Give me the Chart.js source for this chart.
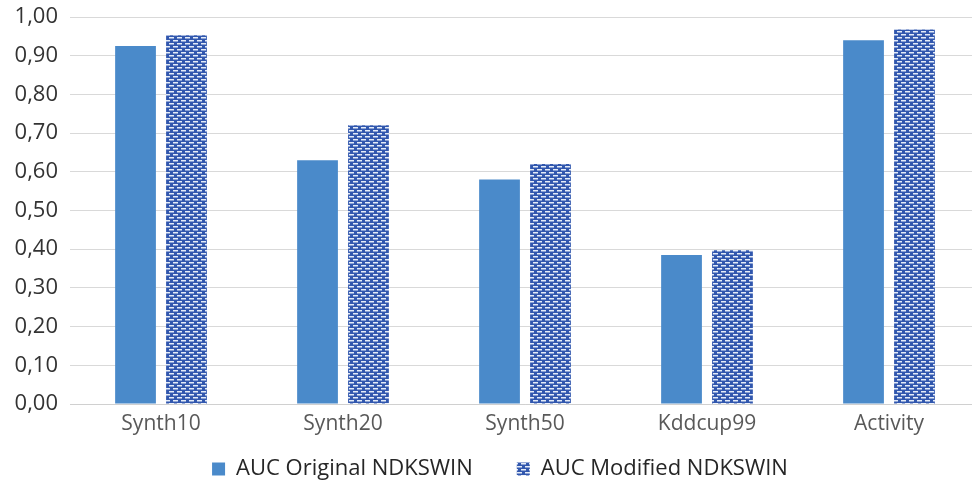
<!DOCTYPE html>
<html>
<head>
<meta charset="utf-8">
<script src="https://cdn.jsdelivr.net/npm/chart.js@4/dist/chart.umd.min.js"></script>
<style>
  html, body { margin: 0; padding: 0; background: #fff; overflow: hidden; }
  #wrap { width: 980px; height: 486px; }
</style>
</head>
<body>
<div id="wrap"><canvas id="aucChart" width="980" height="486"></canvas></div>
<script>
const categories = ['Synth10', 'Synth20', 'Synth50', 'Kddcup99', 'Activity'];
const aucOriginal = [0.925, 0.63, 0.58, 0.385, 0.94];
const aucModified = [0.953, 0.72, 0.62, 0.397, 0.968];
const yTicks = [0, 0.1, 0.2, 0.3, 0.4, 0.5, 0.6, 0.7, 0.8, 0.9, 1.0];

// dashed pattern for the modified series
function makePattern() {
  const c = document.createElement('canvas');
  c.width = 8; c.height = 6;
  const g = c.getContext('2d');
  g.fillStyle = '#3157AE';
  g.fillRect(0, 0, 8, 6);
  g.fillStyle = '#E4ECF8';
  g.fillRect(1, 1, 5, 1.5);
  g.fillRect(5, 4, 5, 1.5);
  g.fillRect(-3, 4, 5, 1.5);
  return g.createPattern(c, 'repeat');
}
const pattern = makePattern();

// nudge the legend into place (wide item gap, low position)
const legendNudge = {
  id: 'legendNudge',
  afterLayout(chart) {
    const lg = chart.legend;
    lg.top = 414;
    lg.left += 20;
  }
};

const ctx = document.getElementById('aucChart').getContext('2d');
const aucChart = new Chart(ctx, {
  type: 'bar',
  data: {
    labels: categories,
    datasets: [{
      label: 'AUC Original NDKSWIN',
      data: aucOriginal,
      backgroundColor: '#4A8ACA',
      categoryPercentage: 0.56,
      barPercentage: 0.8
    }, {
      label: 'AUC Modified NDKSWIN',
      data: aucModified,
      backgroundColor: pattern,
      categoryPercentage: 0.56,
      barPercentage: 0.8
    }]
  },
  plugins: [legendNudge],
  options: {
    responsive: false,
    animation: false,
    layout: { padding: { top: 17, left: 0, right: 0, bottom: 0 } },
    plugins: {
      tooltip: { enabled: false },
      legend: {
        position: 'bottom',
        maxHeight: 46,
        labels: {
          color: '#262626',
          font: { family: 'Open Sans', size: 22 },
          boxWidth: 13,
          boxHeight: 13,
          padding: 44
        }
      }
    },
    scales: {
      x: {
        grid: { display: false, drawTicks: false },
        border: { color: '#D0D0D0' },
        ticks: {
          color: '#595959',
          font: { family: 'Open Sans', size: 21 },
          padding: 7
        },
        afterFit: s => { s.height = 36; s.paddingLeft = 0; s.paddingRight = 0; }
      },
      y: {
        min: 0,
        max: 1,
        afterBuildTicks: s => { s.ticks = yTicks.map(v => ({ value: v })); },
        grid: { color: '#D9D9D9', drawTicks: false },
        border: { display: false },
        ticks: {
          color: '#333333',
          font: { family: 'Open Sans', size: 22 },
          padding: 12,
          callback: v => v.toFixed(2).replace('.', ',')
        },
        afterFit: s => { s.width = 70; s.paddingTop = 0; s.paddingBottom = 0; }
      }
    }
  }
});
</script>
</body>
</html>
